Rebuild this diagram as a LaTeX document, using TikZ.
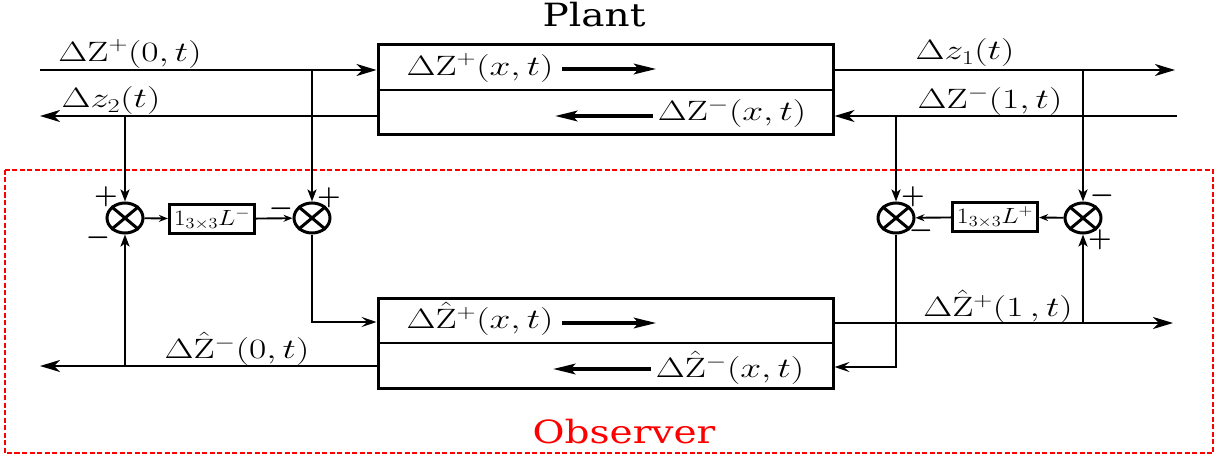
\RequirePackage{fix-cm}
\documentclass[tikz,border=0pt]{standalone}
\usepackage{fontspec}
\usepackage{graphicx}
\newfontfamily\titlefont{DejaVu Serif}
\usetikzlibrary{arrows.meta,shapes.geometric,calc}
\newcommand\wm[1]{\scalebox{1.34}[1]{$#1$}}
\newcommand\wg[1]{\scalebox{1.18}[1]{$#1$}}
\newcommand\wt[1]{\scalebox{1.22}[1]{#1}}
\begin{document}
\begin{tikzpicture}[x=1pt,y=-1pt,
  mathlbl/.style={inner sep=0pt, font=\fontsize{28}{30}\selectfont},
  gainlbl/.style={inner sep=0pt, font=\fontsize{22}{24}\selectfont},
  signlbl/.style={inner sep=0pt, font=\fontsize{27}{29}\selectfont\boldmath},
  blockbox/.style={draw, line width=3pt, minimum width=455pt, minimum height=90pt, inner sep=0pt},
  gainbox/.style={draw, line width=3.2pt, minimum width=85pt, minimum height=29pt, inner sep=0pt},
  summer/.style={draw, ellipse, line width=3pt, minimum width=36pt, minimum height=30pt, inner sep=0pt},
  sigline/.style={line width=1.9pt},
  branchline/.style={line width=2.6pt},
  bigtip/.style={-{Stealth[length=20pt,width=12pt,inset=6pt]}},
  medtip/.style={-{Stealth[length=15pt,width=10pt,inset=6pt]}},
  smalltip/.style={-{Stealth[length=12pt,width=9pt,inset=3pt]}},
  tinytip/.style={-{Stealth[length=9pt,width=7pt,inset=3pt]}},
  flowtip/.style={line width=4.5pt,-{Stealth[length=22pt,width=10pt,inset=4pt]}},
  titlelbl/.style={inner sep=0pt, font=\titlefont\fontsize{32}{34}\selectfont}
]
\useasboundingbox (0,0) rectangle (1225,457);

% observer frame
\draw[red, line width=2.2pt, dash pattern=on 5pt off 2.5pt] (5,170) rectangle (1213,453);

% main blocks
\node[blockbox] (P) at (605.5,90) {};
\draw[line width=2.4pt] (P.west) -- (P.east);
\node[blockbox] (O) at (605.5,343) {};
\draw[line width=2.4pt] (O.west) -- (O.east);

\node[titlelbl] (plantlbl) at (594,15) {\wt{Plant}};
\node[titlelbl, red] (obslbl) at (624,432) {\wt{Observer}};

% coordinates
\coordinate (in1) at (40,70);
\coordinate (out2) at (40,116);
\coordinate (out1) at (1175,70);
\coordinate (in2) at (1177,116);
\coordinate (orow1) at (0,322);
\coordinate (orow2) at (0,367);
\coordinate (oout2) at (40,366);
\coordinate (oout1) at (1173,323);

% summers and gains
\node[summer] (S1) at (125,218) {};
\node[summer] (S2) at (312,218) {};
\node[summer] (S3) at (896,218) {};
\node[summer] (S4) at (1083,218) {};
\foreach \s in {S1,S2,S3,S4}{
  \draw[line width=3pt] (\s.40) -- (\s.220) (\s.140) -- (\s.320);
}
\node[gainbox] (Lm) at (212,219) {};
\node[gainlbl] at (Lm) {\wg{1_{3\times3}L^{-}}};
\node[gainbox] (Lp) at (995,217) {};
\node[gainlbl] at (Lp) {\wg{1_{3\times3}L^{+}}};

% signs
\node[signlbl] at (106,197) {$+$};
\node[signlbl] at (98,238) {$-$};
\node[signlbl] at (281,209) {$-$};
\node[signlbl] at (329,198) {$+$};
\node[signlbl] at (913,197) {$+$};
\node[signlbl] at (921,231) {$-$};
\node[signlbl] at (1102,196) {$-$};
\node[signlbl] at (1100,240) {$+$};

% plant signals
\draw[sigline,bigtip] (in1) -- (P.west |- in1);
\draw[sigline,bigtip] (P.west |- out2) -- (out2);
\draw[sigline,bigtip] (P.east |- out1) -- (out1);
\draw[sigline,bigtip] (in2) -- (P.east |- in2);

% branches to summers
\draw[branchline,smalltip] (S2 |- in1) -- (S2);
\draw[branchline,smalltip] (S1 |- out2) -- (S1);
\draw[branchline,smalltip] (S4 |- out1) -- (S4);
\draw[branchline,smalltip] (S3 |- in2) -- (S3);

% gain paths
\draw[sigline,tinytip] (S1) -- (Lm);
\draw[sigline,tinytip] (Lm) -- (S2);
\draw[sigline,tinytip] (S4) -- (Lp);
\draw[sigline,tinytip] (Lp) -- (S3);

% observer inputs
\draw[branchline,medtip] (S2) |- (O.west |- orow1);
\draw[branchline,medtip] (S3) |- (O.east |- orow2);

% observer outputs
\draw[sigline,bigtip] (O.west |- oout2) -- (oout2);
\draw[sigline,bigtip] (O.east |- oout1) -- (oout1);
\draw[branchline,smalltip] (S1 |- oout2) -- (S1);
\draw[branchline,smalltip] (S4 |- oout1) -- (S4);

% outside labels
\node[mathlbl] (l1) at (130,54) {\wm{\Delta \mathrm{Z}^{+}(0,t)}};
\node[mathlbl] (l2) at (111,101) {\wm{\Delta z_{2}(t)}};
\node[mathlbl] (l3) at (965,53) {\wm{\Delta z_{1}(t)}};
\node[mathlbl] (l4) at (990,101) {\wm{\Delta \mathrm{Z}^{-}(1,t)}};
\node[mathlbl] (l5) at (237,349) {\wm{\Delta \hat{\mathrm{Z}}^{-}(0,t)}};
\node[mathlbl] (l6) at (998,307) {\wm{\Delta \hat{\mathrm{Z}}^{+}(1\,,t)}};

% inside labels and flow arrows
\node[mathlbl] (p1) at (480,68) {\wm{\Delta \mathrm{Z}^{+}(x,t)}};
\draw[flowtip] ($(p1.east)+(8,1)$) -- ++(95,0);
\node[mathlbl] (p2) at (732,113) {\wm{\Delta \mathrm{Z}^{-}(x,t)}};
\draw[flowtip] ($(p2.west)+(-5,3)$) -- ++(-98,0);
\node[mathlbl] (o1) at (480,319) {\wm{\Delta \hat{\mathrm{Z}}^{+}(x,t)}};
\draw[flowtip] ($(o1.east)+(8,4)$) -- ++(95,0);
\node[mathlbl] (o2) at (730,368) {\wm{\Delta \hat{\mathrm{Z}}^{-}(x,t)}};
\draw[flowtip] ($(o2.west)+(-5,1)$) -- ++(-98,0);
\end{tikzpicture}
\end{document}
